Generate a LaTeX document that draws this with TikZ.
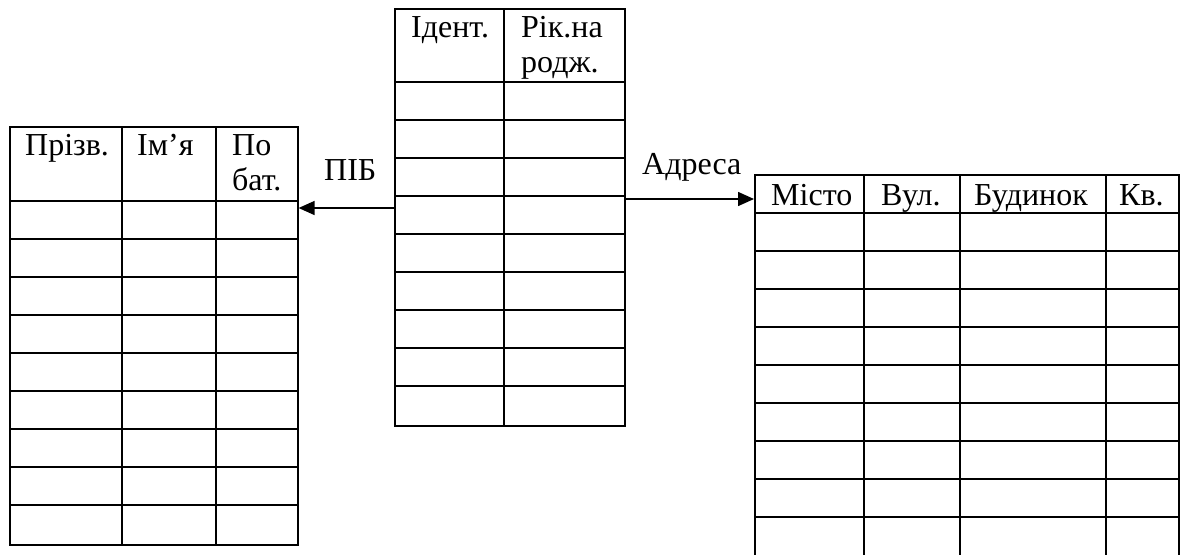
\documentclass[tikz,border=0pt]{standalone}
\usepackage{fontspec}
\setmainfont{Liberation Serif}
\usepackage{tikz}
\usetikzlibrary{arrows.meta}
\definecolor{ink}{HTML}{000000}
\newcommand{\twolines}[2]{\vtop{\hbox{#1}\hbox{#2}}}
\tikzset{
  tbl/.style={draw=ink,line width=1.6pt,anchor=north west,inner sep=0pt},
  cellline/.style={line width=1.6pt,color=ink},
  hdr/.style={anchor=base west,inner sep=0pt,text=ink},
  lbl/.style={anchor=base west,inner sep=0pt,text=ink},
  arrow/.style={-{Triangle[length=16pt,width=14pt]},line width=1.5pt,color=ink},
}

\begin{document}
\begin{tikzpicture}[x=1pt,y=-1pt,font=\fontsize{32}{35.5}\selectfont]
    \useasboundingbox (0,0) rectangle (1185,554);
    % the three tables
    \node[tbl,minimum width=288pt,minimum height=418pt] (pib) at (9,126) {};
    \node[tbl,minimum width=230pt,minimum height=417pt] (osoba) at (394,8) {};
    \node[tbl,minimum width=424pt,minimum height=400pt] (adr) at (754,174) {};
    \foreach \y in {201,239,...,505} \draw[cellline] (pib.west |- 0,\y) -- (pib.east |- 0,\y);
    \foreach \x in {122,216} \draw[cellline] (pib.north -| \x,0) -- (pib.south -| \x,0);
    \foreach \y in {82,120,...,386} \draw[cellline] (osoba.west |- 0,\y) -- (osoba.east |- 0,\y);
    \draw[cellline] (osoba.north -| 504,0) -- (osoba.south -| 504,0);
    \foreach \y in {213,251,...,517} \draw[cellline] (adr.west |- 0,\y) -- (adr.east |- 0,\y);
    \foreach \x in {864,960,1106} \draw[cellline] (adr.north -| \x,0) -- (adr.south -| \x,0);
    % headers
    \node[hdr] (h1) at (25,155) {Прізв.};
    \node[hdr] (h2) at (137,155) {Ім’я};
    \node[hdr] (h3) at (232,155) {\twolines{По}{бат.}};
    \node[hdr] (h4) at (411,37) {Ідент.};
    \node[hdr] (h5) at (521,37) {\twolines{Рік.на}{родж.}};
    \node[hdr] (h6) at (771,205) {Місто};
    \node[hdr] (h7) at (881,205) {Вул.};
    \node[hdr] (h8) at (974,205) {Будинок};
    \node[hdr] (h9) at (1119,205) {Кв.};
    % links
    \draw[arrow] (osoba.west |- 0,208) -- (pib.east |- 0,208);
    \draw[arrow] (osoba.east |- 0,199) -- (adr.west |- 0,199);
    \node[lbl] (pibl) at (324,180) {ПІБ};
    \node[lbl] (adrl) at (642,174) {Адреса};
  \end{tikzpicture}
\end{document}
